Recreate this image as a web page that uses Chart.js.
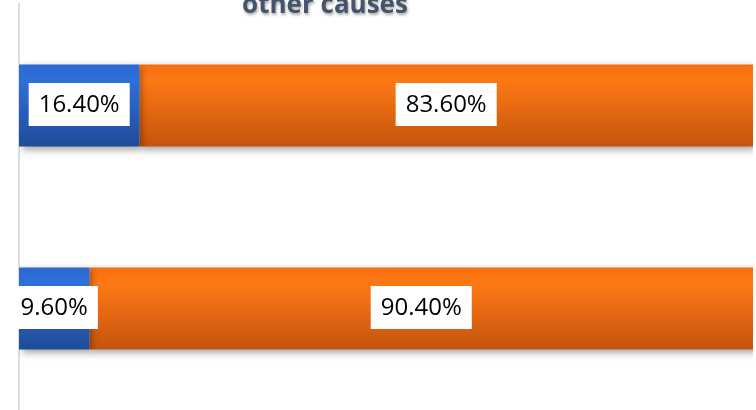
<!DOCTYPE html>
<html>
<head>
<meta charset="utf-8">
<script src="https://cdn.jsdelivr.net/npm/chart.js@4/dist/chart.umd.min.js"></script>
<style>
  html, body { margin: 0; padding: 0; background: #fff; }
  #wrap { width: 756px; height: 410px; position: relative; }
</style>
</head>
<body>
<div id="wrap"><canvas id="myChart"></canvas></div>
<script>
// data
const categories = ["Group 1", "Group 2"];
const blueValues = [16.4, 9.6];
const orangeValues = [83.6, 90.4];
const titleText = "other causes";

// vertical gradients per bar
const gradStops = {
   blue: [[0, '#2c69d1'], [0.2, '#2f6fd9'], [1, '#1f4b97']],
   orange: [[0, '#f77010'], [0.2, '#fe7815'], [1, '#c3540d']]
};

const barLook = {
   id: 'barLook',
   beforeDatasetsDraw(chart) {
      const ctx = chart.ctx;
      chart.data.datasets.forEach((ds, i) => {
         chart.getDatasetMeta(i).data.forEach(el => {
            const top = el.y - el.height / 2;
            const g = ctx.createLinearGradient(0, top, 0, top + el.height);
            gradStops[ds.key].forEach(s => g.addColorStop(s[0], s[1]));
            el.options.backgroundColor = g;
         });
      });
      ctx.save();
      ctx.shadowColor = 'rgba(0,0,0,0.35)';
      ctx.shadowBlur = 7;
      ctx.shadowOffsetX = 3;
      ctx.shadowOffsetY = 3;
   },
   afterDatasetsDraw(chart) {
      chart.ctx.restore();
      // labels in white boxes
      const ctx = chart.ctx;
      ctx.save();
      ctx.font = '24px "Open Sans"';
      ctx.textAlign = 'center';
      ctx.textBaseline = 'middle';
      chart.data.datasets.forEach((ds, i) => {
         chart.getDatasetMeta(i).data.forEach((el, j) => {
            const txt = ds.data[j].toFixed(2) + '%';
            const cx = (el.x + el.base) / 2;
            const w = ctx.measureText(txt).width + 20;
            const h = 43;
            ctx.fillStyle = '#ffffff';
            ctx.fillRect(cx - w / 2, el.y - h / 2 - 1, w, h);
            ctx.fillStyle = '#000000';
            ctx.fillText(txt, cx, el.y);
         });
      });
      ctx.restore();
   },
   afterDraw(chart) {
      // title, cut off at the top like the reference
      const ctx = chart.ctx;
      ctx.save();
      ctx.font = 'bold 26px "Open Sans"';
      ctx.textAlign = 'center';
      ctx.textBaseline = 'alphabetic';
      ctx.shadowColor = 'rgba(0,0,0,0.35)';
      ctx.shadowBlur = 3;
      ctx.shadowOffsetX = 1;
      ctx.shadowOffsetY = 2;
      ctx.fillStyle = '#44546a';
      ctx.fillText(titleText, 325, 13);
      ctx.restore();
   }
};

let ctx = document.getElementById('myChart').getContext('2d');
let myChart = new Chart(ctx, {
   type: 'bar',
   data: {
      labels: categories,
      datasets: [{
         key: 'blue',
         data: blueValues,
         backgroundColor: () => '#2f6fd9',
         borderWidth: 0
      }, {
         key: 'orange',
         data: orangeValues,
         backgroundColor: () => '#fe7815',
         borderWidth: 0
      }]
   },
   options: {
      indexAxis: 'y',
      responsive: true,
      maintainAspectRatio: false,
      animation: false,
      layout: { padding: { top: 4, right: 3, bottom: 0, left: 19 } },
      categoryPercentage: 1,
      barPercentage: 0.404,
      plugins: {
         legend: { display: false },
         tooltip: { enabled: false }
      },
      scales: {
         x: {
            stacked: true,
            min: 0,
            max: 100,
            display: false
         },
         y: {
            stacked: true,
            ticks: { display: false },
            grid: { display: false, drawTicks: false },
            border: { display: true, color: '#d9dde4', width: 2 }
         }
      }
   },
   plugins: [barLook]
});
</script>
</body>
</html>
